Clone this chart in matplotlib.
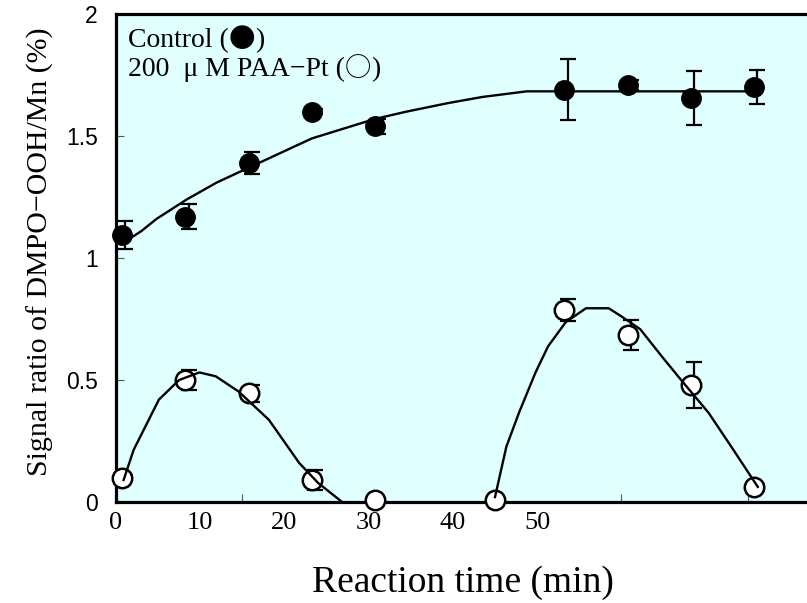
import matplotlib
matplotlib.use("Agg")
import matplotlib.pyplot as plt
import numpy as np

t_ctrl = [0.5, 5.5, 10.5, 15.5, 20.5, 35.5, 40.5, 45.5, 50.5]
ctrl = [1.095, 1.17, 1.39, 1.60, 1.54, 1.69, 1.71, 1.655, 1.70]
ctrl_err = [0.057, 0.05, 0.045, 0.01, 0.03, 0.125, 0.02, 0.11, 0.07]

t_paa = [0.5, 5.5, 10.5, 15.5, 20.5, 30, 35.5, 40.5, 45.5, 50.5]
paa = [0.10, 0.50, 0.445, 0.09, 0.01, 0.01, 0.785, 0.685, 0.48, 0.06]
paa_err = [0.012, 0.04, 0.035, 0.04, 0.0, 0.0, 0.045, 0.06, 0.095, 0.015]

# Courbes tracées à la main (points relevés)
fit_ctrl_t = [0.5, 2, 3.2, 5.6, 8, 10.5, 13, 15.5, 18, 20.5, 23, 26.3, 29, 32.5, 50.7]
fit_ctrl = [1.06, 1.11, 1.16, 1.24, 1.31, 1.37, 1.43, 1.49, 1.53, 1.57, 1.60, 1.635,
            1.66, 1.683, 1.683]

fit_paa1_t = [0.6, 1.4, 3.4, 5.0, 6.6, 7.9, 9.7, 12.1, 14.5, 16.0, 17.9]
fit_paa1 = [0.09, 0.214, 0.42, 0.50, 0.531, 0.515, 0.453, 0.337, 0.16, 0.078, 0.0]

fit_paa2_t = [30.0, 30.9, 31.9, 33.2, 34.2, 35.6, 37.2, 39.0, 40.0, 41.5, 43.2, 44.7,
              46.9, 48.7, 50.8]
fit_paa2 = [0.02, 0.227, 0.366, 0.53, 0.638, 0.737, 0.794, 0.794, 0.761, 0.708, 0.597,
            0.502, 0.366, 0.227, 0.062]

x_ticks = [10, 20, 30, 40, 50]
x_labels = [0, 10, 20, 30, 40, 50]
y_ticks = [0, 0.5, 1, 1.5, 2]
y_labels = ["0", "0.5", "1", "1.5", "2"]

serif = "Liberation Serif"
cjk = "Noto Sans CJK JP"
bar_shift = 0.25  # barres légèrement décalées à droite

fig = plt.figure(figsize=(8.07, 6.03), dpi=100)
ax = fig.add_axes([116 / 807, 101 / 603, 758 / 807, 488 / 603])
ax.set_facecolor("#E0FFFF")
ax.set_xlim(0, 60)
ax.set_ylim(0, 2)

for s in ["left", "bottom", "top", "right"]:
    ax.spines[s].set_linewidth(2.3)

# barres d'erreur
ax.errorbar(np.array(t_ctrl) + bar_shift, ctrl, yerr=ctrl_err, fmt="none",
            ecolor="black", elinewidth=1.6, capsize=6, capthick=1.6, zorder=2)
ax.errorbar(np.array(t_paa) + bar_shift, paa, yerr=paa_err, fmt="none",
            ecolor="black", elinewidth=1.6, capsize=6, capthick=1.6, zorder=2)

# points
ax.plot(t_ctrl, ctrl, "o", ms=14, mfc="black", mec="black", zorder=3, clip_on=False)
ax.plot(t_paa, paa, "o", ms=14, mfc="white", mec="black", mew=1.8, zorder=3,
        clip_on=False)

# courbes
ax.plot(fit_ctrl_t, fit_ctrl, color="black", lw=1.7, zorder=4)
ax.plot(fit_paa1_t, fit_paa1, color="black", lw=1.7, zorder=4)
ax.plot(fit_paa2_t, fit_paa2, color="black", lw=1.7, zorder=4)

# axe y
ax.set_yticks(y_ticks)
ax.set_yticklabels(y_labels, family="Liberation Sans", fontsize=16.5)
ax.tick_params(axis="y", direction="in", length=6, width=0.8, color="#555555", pad=13)

# axe x : graduations sans étiquettes, étiquettes sur un axe secondaire
ax.set_xticks(x_ticks)
ax.set_xticklabels([])
ax.tick_params(axis="x", direction="in", length=6, width=0.8, color="#555555")

sec = ax.secondary_xaxis("bottom", functions=(lambda x: x * 1.5, lambda x: x / 1.5))
sec.set_xticks(x_labels)
sec.set_xticklabels([str(v) for v in x_labels], family=serif, fontsize=19)
sec.tick_params(length=0, pad=7)
sec.spines["bottom"].set_visible(False)

fig.text(463 / 807, 1 - 583 / 603, "Reaction time (min)", family=serif, fontsize=27,
         ha="center", va="center")
fig.text(40 / 807, 1 - 252 / 603, "Signal ratio of DMPO\u2212OOH/Mn (%)", family=serif,
         fontsize=21.5, rotation=90, ha="center", va="center")

# légende écrite dans le graphe, les cercles en police CJK (pleine largeur)
def legend_line(y, before, symbol):
    t1 = ax.text(0.016, y, before, transform=ax.transAxes, family=serif,
                 fontsize=20, va="baseline")
    t2 = ax.annotate(symbol, xy=(1, 0), xycoords=t1, family=cjk, fontsize=19,
                     va="bottom", ha="left")
    ax.annotate(")", xy=(1, 0), xycoords=t2, family=serif, fontsize=20,
                va="bottom", ha="left")

legend_line(0.932, "Control (", "\u25cf")
legend_line(0.872, "200  \u03bc M PAA\u2212Pt (", "\u25cb")

fig.savefig("out.png", dpi=100)
